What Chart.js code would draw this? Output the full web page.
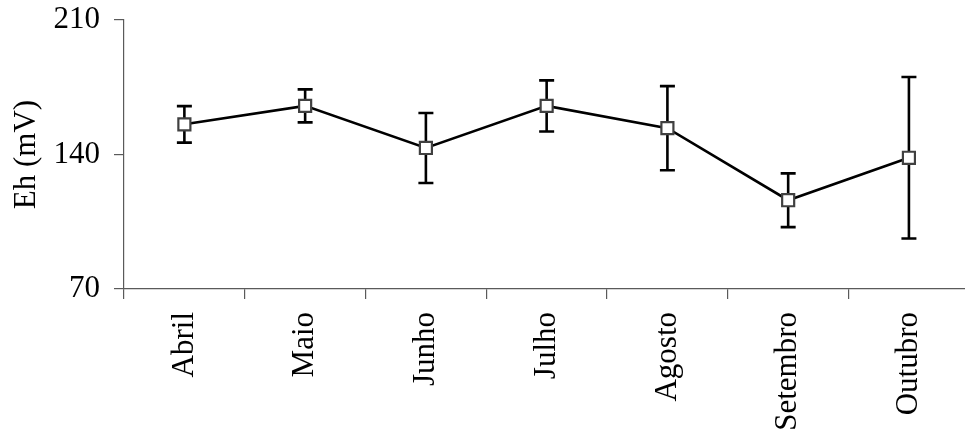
<!DOCTYPE html>
<html>
<head>
<meta charset="utf-8">
<script src="https://cdn.jsdelivr.net/npm/chart.js@4"></script>
<style>
  html, body { margin: 0; padding: 0; background: #fff; overflow: hidden; }
  #chart { display: block; }
</style>
</head>
<body>
<canvas id="chart" width="980" height="436"></canvas>
<script>
// Data
const months = ['Abril', 'Maio', 'Junho', 'Julho', 'Agosto', 'Setembro', 'Outubro'];
const ehMean = [155.7, 165.3, 143.4, 165.3, 153.7, 116.2, 138.3];
const ehError = [9.5, 8.6, 18.2, 13.3, 21.9, 14.0, 42.0];
const yTicks = [70, 140, 210];

const FONT = 'Liberation Serif, Times New Roman, serif';
const AXIS = '#5a5a5a';

// Error bars drawn through the chart's scales, under the markers
const errorBars = {
    id: 'errorBars',
    beforeDatasetsDraw(chart) {
        const ctx = chart.ctx;
        const x = chart.scales.x;
        const y = chart.scales.y;
        ctx.save();
        ctx.strokeStyle = '#000';
        ctx.lineWidth = 2.6;
        ehMean.forEach((m, i) => {
            const px = x.getPixelForValue(i);
            const top = y.getPixelForValue(m + ehError[i]);
            const bot = y.getPixelForValue(m - ehError[i]);
            ctx.beginPath();
            ctx.moveTo(px, top);
            ctx.lineTo(px, bot);
            ctx.moveTo(px - 7.5, top);
            ctx.lineTo(px + 7.5, top);
            ctx.moveTo(px - 7.5, bot);
            ctx.lineTo(px + 7.5, bot);
            ctx.stroke();
        });
        ctx.restore();
    }
};

new Chart(document.getElementById('chart'), {
    type: 'line',
    data: {
        labels: months,
        datasets: [{
            data: ehMean,
            borderColor: '#000',
            borderWidth: 2.6,
            tension: 0,
            pointStyle: 'rect',
            pointRadius: 8.5,
            pointBackgroundColor: '#fff',
            pointBorderColor: '#404040',
            pointBorderWidth: 2.2
        }]
    },
    options: {
        responsive: false,
        animation: false,
        layout: { padding: { top: 20, right: 4, left: 0, bottom: 0 } },
        plugins: {
            legend: { display: false },
            tooltip: { enabled: false }
        },
        scales: {
            x: {
                type: 'category',
                offset: true,
                grid: {
                    offset: true,
                    drawOnChartArea: false,
                    drawTicks: true,
                    tickLength: 10,
                    color: AXIS,
                    lineWidth: 1.2
                },
                border: { color: AXIS, width: 1.2 },
                ticks: {
                    minRotation: 90,
                    maxRotation: 90,
                    autoSkip: false,
                    padding: 13,
                    color: '#000',
                    font: { family: FONT, size: 31 }
                },
                afterFit(scale) {
                    scale.height = 147;
                    scale.paddingLeft = 0;
                    scale.paddingRight = 0;
                }
            },
            y: {
                min: 70,
                max: 210,
                afterBuildTicks(scale) {
                    scale.ticks = yTicks.map(v => ({ value: v }));
                },
                grid: {
                    drawOnChartArea: false,
                    drawTicks: true,
                    tickLength: 10,
                    color: AXIS,
                    lineWidth: 1.2
                },
                border: { color: AXIS, width: 1.2 },
                ticks: {
                    padding: 14,
                    color: '#000',
                    font: { family: FONT, size: 31 }
                },
                title: {
                    display: true,
                    text: 'Eh (mV)',
                    color: '#000',
                    font: { family: FONT, size: 31 },
                    padding: { top: 8, bottom: 0 }
                },
                afterFit(scale) {
                    scale.width = 124;
                    scale.paddingTop = 0;
                    scale.paddingBottom = 0;
                }
            }
        }
    },
    plugins: [errorBars]
});
</script>
</body>
</html>
